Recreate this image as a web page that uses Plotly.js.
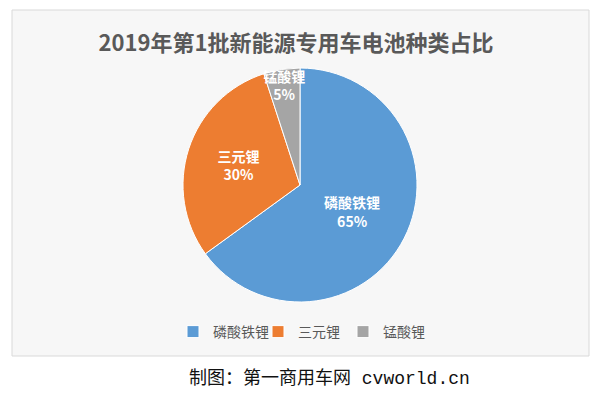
<!DOCTYPE html>
<html><head><meta charset="utf-8">
<script src="https://cdn.plot.ly/plotly-3.0.1.min.js"></script>
<style>body{margin:0;padding:0;background:#fff}#chart{width:601px;height:398px}</style>
</head><body><div id="chart"></div>
<script>
const categories = ["磷酸铁锂", "三元锂", "锰酸锂"];
const shares = [65, 30, 5];
const sliceColors = ["#5B9BD5", "#ED7D31", "#A5A5A5"];
const chartTitle = "2019年第1批新能源专用车电池种类占比";
const credit = "制图：第一商用车网 cvworld.cn";

const W = 601, H = 398;
const trace = {
  type: "pie",
  labels: categories,
  values: shares,
  sort: false,
  direction: "clockwise",
  rotation: 0,
  marker: {colors: sliceColors, line: {color: "#ffffff", width: 1}},
  texttemplate: "<b>%{label}</b><br><b>%{percent:.0%}</b>",
  textposition: "inside",
  insidetextorientation: "horizontal",
  textfont: {color: "#ffffff", size: 14, family: "Noto Sans CJK SC"},
  hoverinfo: "none",
  domain: {x: [183/W, 417/W], y: [1 - 302/H, 1 - 68/H]}
};
const layout = {
  width: W, height: H,
  margin: {l: 0, r: 0, t: 0, b: 0},
  paper_bgcolor: "#ffffff",
  font: {family: "Noto Sans CJK SC", color: "#595959"},
  uniformtext: {minsize: 13, mode: "show"},
  title: {text: "<b>" + chartTitle + "</b>", x: 296/W, xanchor: "center", y: 1 - 43/H, yanchor: "middle",
          font: {size: 22, color: "#595959", family: "Noto Sans CJK SC"}},
  showlegend: true,
  legend: {orientation: "h", x: 0.5, xanchor: "center", y: 1 - 332/H, yanchor: "middle",
           font: {size: 14, color: "#595959"}, itemwidth: 30, tracegroupgap: 0, bgcolor: "rgba(0,0,0,0)",
           entrywidthmode: "pixels", entrywidth: 40},
  shapes: [{type: "rect", xref: "paper", yref: "paper", x0: 12/W, x1: 589/W, y0: 1 - 356/H, y1: 1 - 10/H,
            line: {color: "#d9d9d9", width: 1}, fillcolor: "#f7f7f7", layer: "below"}],
  annotations: [{text: credit, xref: "paper", yref: "paper", x: 187/W, xanchor: "left", y: 1 - 378/H, yanchor: "middle",
                 showarrow: false, font: {size: 18, color: "#111111", family: "Liberation Mono, Noto Sans CJK SC"}}]
};
Plotly.newPlot("chart", [trace], layout, {displayModeBar: false, staticPlot: true});
</script></body></html>
